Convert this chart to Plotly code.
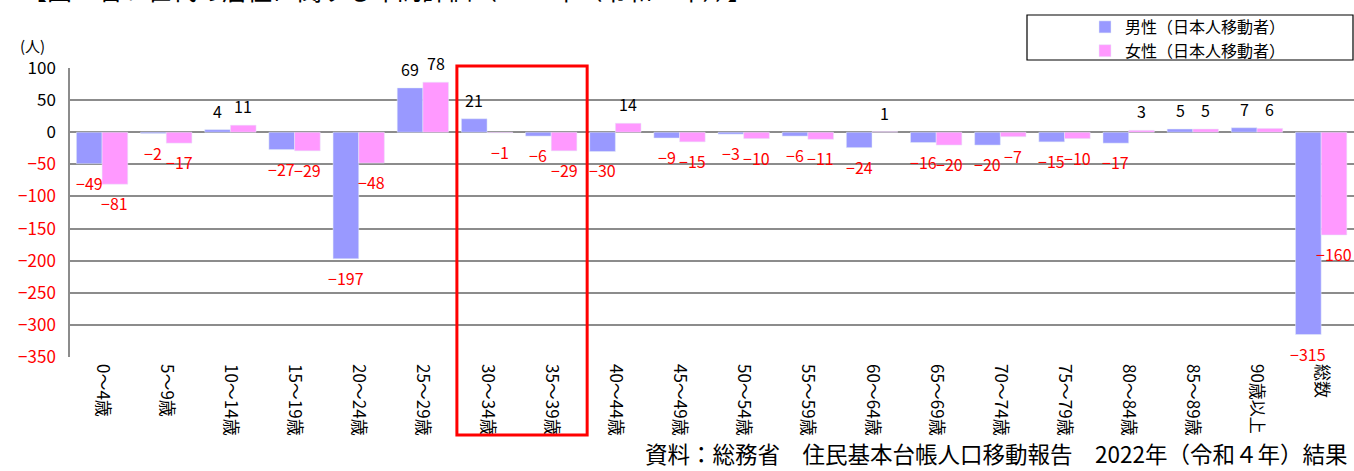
import plotly.graph_objects as go

# 年齢5歳階級別の転入超過数（日本人移動者）
age_groups = [
    "0～4歳", "5～9歳", "10～14歳", "15～19歳", "20～24歳", "25～29歳",
    "30～34歳", "35～39歳", "40～44歳", "45～49歳", "50～54歳", "55～59歳",
    "60～64歳", "65～69歳", "70～74歳", "75～79歳", "80～84歳", "85～89歳",
    "90歳以上", "総数",
]
male = [-49, -2, 4, -27, -197, 69, 21, -6, -30, -9, -3, -6, -24, -16, -20, -15, -17, 5, 7, -315]
female = [-81, -17, 11, -29, -48, 78, -1, -29, 14, -15, -10, -11, 1, -20, -7, -10, 3, 5, 6, -160]
y_ticks = [-350, -300, -250, -200, -150, -100, -50, 0, 50, 100]

series_names = ["男性（日本人移動者）", "女性（日本人移動者）"]
title_text = "【図　若い世代の居住に関する年間評価（2022年（令和４年））】"
source_text = "資料：総務省　住民基本台帳人口移動報告　2022年（令和４年）結果"
unit_text = "(人)"

MALE_COLOR = "#9999FF"
FEMALE_COLOR = "#FF99FF"
NEG_COLOR = "#FF0000"
GRID_COLOR = "#8C8C8C"
FONT = "Noto Sans CJK JP"

W, H = 1354, 471
M_L, M_R, M_T, M_B = 70, 0, 68, 114
BARGAP = 0.2
plot_w = W - M_L - M_R
plot_h = H - M_T - M_B


def fmt(v):
    return f"−{abs(v)}" if v < 0 else str(v)


def px_x(px):
    return (px - M_L) / plot_w


def px_y(py):
    return (H - M_B - py) / plot_h


fig = go.Figure()
fig.add_bar(x=age_groups, y=male, name=series_names[0], marker_color=MALE_COLOR)
fig.add_bar(x=age_groups, y=female, name=series_names[1], marker_color=FEMALE_COLOR)

# value labels just beyond each bar end
bar_px = plot_w / len(age_groups) * (1 - BARGAP) / 2
annotations = []
for values, side in ((male, -1), (female, 1)):
    for cat, v in zip(age_groups, values):
        annotations.append(dict(
            x=cat, y=v, xref="x", yref="y", text=fmt(v), showarrow=False,
            xshift=side * bar_px / 2, yshift=19 if v > 0 else -19,
            font=dict(family=FONT, size=16, color=NEG_COLOR if v < 0 else "#000000"),
        ))

annotations += [
    dict(text=unit_text, x=px_x(18), y=px_y(46), xref="paper", yref="paper",
         xanchor="left", yanchor="middle", showarrow=False,
         font=dict(family=FONT, size=15, color="#000000")),
    dict(text=title_text, x=px_x(20), y=px_y(9), xref="paper", yref="paper",
         xanchor="left", yanchor="bottom", showarrow=False,
         font=dict(family=FONT, size=25, color="#000000")),
    dict(text=source_text, x=px_x(1349), y=px_y(453), xref="paper", yref="paper",
         xanchor="right", yanchor="middle", showarrow=False,
         font=dict(family=FONT, size=22.5, color="#000000")),
]

tick_text = [f"<span style='color:{NEG_COLOR}'>{fmt(v)}</span>" if v < 0 else fmt(v) for v in y_ticks]

shapes = [
    # legend frame
    dict(type="rect", xref="paper", yref="paper",
         x0=px_x(1027), x1=px_x(1353), y0=px_y(60), y1=px_y(15),
         line=dict(color="#000000", width=1.2), fillcolor="#FFFFFF", layer="below"),
    # highlight around the 30～39歳 groups
    dict(type="rect", xref="x", yref="paper",
         x0=5.53, x1=7.56, y0=px_y(435), y1=px_y(66),
         line=dict(color="#FF0000", width=3), fillcolor="rgba(0,0,0,0)"),
]

fig.update_layout(
    width=W, height=H,
    margin=dict(l=M_L, r=M_R, t=M_T, b=M_B, pad=0),
    paper_bgcolor="#FFFFFF", plot_bgcolor="#FFFFFF",
    barmode="group", bargap=BARGAP, bargroupgap=0,
    font=dict(family=FONT, size=15, color="#000000"),
    showlegend=True,
    legend=dict(x=px_x(1085), y=px_y(10), xanchor="left", yanchor="top",
                xref="paper", yref="paper", bgcolor="rgba(0,0,0,0)",
                borderwidth=0, font=dict(family=FONT, size=16),
                tracegroupgap=0, itemclick=False),
    annotations=annotations,
    shapes=shapes,
    xaxis=dict(
        type="category", tickangle=90, showgrid=False, showline=False,
        ticks="", ticklabelstandoff=6,
        tickfont=dict(family=FONT, size=17, color="#000000"),
        fixedrange=True,
    ),
    yaxis=dict(
        range=[-350, 100], tickvals=y_ticks, ticktext=tick_text,
        showgrid=True, gridcolor=GRID_COLOR, gridwidth=1.5,
        zeroline=False, showline=True, linecolor=GRID_COLOR, linewidth=1.5,
        ticks="", ticklabelstandoff=9,
        tickfont=dict(family=FONT, size=17, color="#000000"),
        fixedrange=True,
    ),
)

fig.write_html("out.html", config=dict(displayModeBar=False))
